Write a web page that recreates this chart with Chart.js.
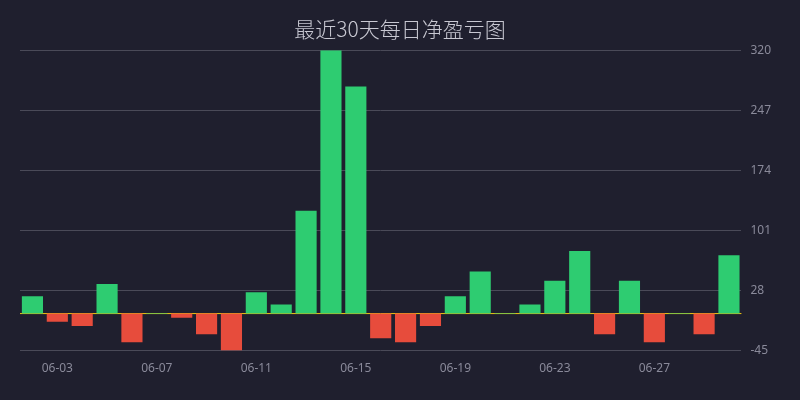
<!DOCTYPE html>
<html><head><meta charset="utf-8">
<script src="https://cdn.jsdelivr.net/npm/chart.js@4"></script>
<style>html,body{margin:0;padding:0;background:#1f1f2e;}#wrap{width:800px;height:400px;}</style>
</head><body><div id="wrap"><canvas id="c"></canvas></div>
<script>
const dates = ["06-02","06-03","06-04","06-05","06-06","06-07","06-08","06-09","06-10","06-11","06-12","06-13","06-14","06-15","06-16","06-17","06-18","06-19","06-20","06-21","06-22","06-23","06-24","06-25","06-26","06-27","06-28","06-29","06-30"];
const pnl = [21,-10,-15,36,-35,0,-5,-25,-45,26,11,125,320,276,-30,-35,-15,21,51,0,11,40,76,-25,40,-35,0,-25,71];
const yTicks = [-45,28,101,174,247,320];
const title = "最近30天每日净盈亏图";

const zeroLine = {
  id:'zeroLine',
  beforeDatasetsDraw(chart){
    const y = chart.scales.y.getPixelForValue(0);
    const ctx = chart.ctx, a = chart.chartArea;
    ctx.save();
    ctx.strokeStyle = '#f1c40f';
    ctx.lineWidth = 1;
    ctx.beginPath(); ctx.moveTo(a.left, y); ctx.lineTo(a.right, y); ctx.stroke();
    ctx.restore();
  }
};

new Chart(document.getElementById('c'), {
  type:'bar',
  data:{labels:dates, datasets:[{
    data: pnl.map(v => v === 0 ? 0.8 : v),
    backgroundColor: pnl.map(v => v >= 0 ? '#2ecc71' : '#e74c3c'),
    borderWidth:0,
    categoryPercentage:0.85,
    barPercentage:1
  }]},
  options:{
    responsive:true, maintainAspectRatio:false, animation:false,
    layout:{padding:{left:20,right:20,top:6,bottom:21}},
    plugins:{
      legend:{display:false},
      tooltip:{enabled:false},
      title:{display:true, text:title, color:'#c8c8d2',
        font:{family:'"Noto Sans CJK SC", sans-serif', size:21, weight:'300'},
        padding:{top:10,bottom:9}}
    },
    scales:{
      x:{grid:{display:false}, border:{display:false},
        ticks:{color:'#8a8a9a', font:{family:'"Noto Sans", sans-serif', size:12}, autoSkip:false, maxRotation:0,
          callback:function(v,i){ return i%4===1 ? dates[i] : ''; }}},
      y:{position:'right', min:-45, max:320,
        afterBuildTicks: s => { s.ticks = yTicks.map(v => ({value:v})); },
        grid:{color:'#4a4a58', drawTicks:false, lineWidth:1},
        border:{display:false},
        ticks:{color:'#8a8a9a', padding:9, font:{family:'"Noto Sans", sans-serif', size:12}}}
    }
  },
  plugins:[zeroLine]
});
</script></body></html>
